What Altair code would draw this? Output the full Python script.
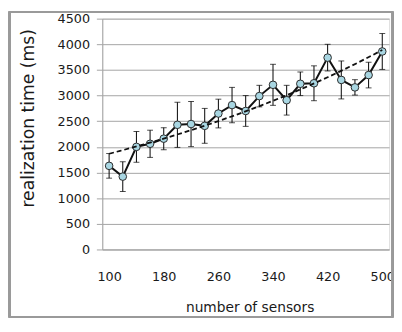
import altair as alt
import pandas as pd

sensors = [100, 120, 140, 160, 180, 200, 220, 240, 260, 280, 300,
           320, 340, 360, 380, 400, 420, 440, 460, 480, 500]
time_ms = [1630, 1420, 2000, 2060, 2160, 2430, 2445, 2410, 2650, 2815, 2700,
           2990, 3210, 2910, 3230, 3240, 3740, 3305, 3160, 3400, 3860]
err_ms = [240, 290, 300, 265, 215, 440, 440, 340, 280, 345, 300,
          210, 400, 290, 230, 340, 260, 370, 150, 250, 350]
x_ticks = [100, 180, 260, 340, 420, 500]
y_ticks = [0, 500, 1000, 1500, 2000, 2500, 3000, 3500, 4000, 4500]

df = pd.DataFrame({"n": sensors, "t": time_ms, "e": err_ms})
df["lo"] = df["t"] - df["e"]
df["hi"] = df["t"] + df["e"]

FONT = "DejaVu Sans"
GRID = "#a3a3a3"

x_axis = alt.Axis(values=x_ticks, grid=False, ticks=False, tickSize=0,
                  labelPadding=22, labelFont=FONT, labelFontSize=13,
                  labelColor="#1a1a1a", domainColor=GRID,
                  labelOverlap=False, format="d",
                  title="number of sensors", titleFont=FONT,
                  titleFontSize=14, titleFontWeight="normal",
                  titleColor="#1a1a1a", titleX=150, titleY=63,
                  titleBaseline="alphabetic", titleAnchor="start",
                  titleAlign="center")
y_axis = alt.Axis(values=y_ticks, grid=True, gridColor=GRID,
                  tickColor=GRID, tickSize=6, domainColor=GRID,
                  labelPadding=7, labelFont=FONT, labelFontSize=13,
                  labelColor="#1a1a1a", labelOverlap=False, format="d",
                  title="realization time (ms)", titleFont=FONT,
                  titleFontSize=17.5, titleFontWeight="normal",
                  titleColor="#1a1a1a", titleX=-75, titleY=101,
                  titleBaseline="middle", titleAnchor="start",
                  titleAlign="center", titleAngle=270)
x_scale = alt.Scale(domain=[90, 510], nice=False, zero=False)
y_scale = alt.Scale(domain=[0, 4500], nice=False)


def X():
    return alt.X("n:Q", scale=x_scale, axis=x_axis)


def Y(field):
    return alt.Y(field + ":Q", scale=y_scale, axis=y_axis)


base = alt.Chart(df)

FR = dict(color="#9a9a9a", strokeWidth=1.5)
L, R, T, B = -94.5, 295.5, -7, 304
f_top = base.mark_rule(**FR).encode(x=alt.value(L), x2=alt.value(R), y=alt.value(T))
f_bot = base.mark_rule(**FR).encode(x=alt.value(L), x2=alt.value(R), y=alt.value(B))
f_left = base.mark_rule(**FR).encode(x=alt.value(L), y=alt.value(T), y2=alt.value(B))
f_right = base.mark_rule(**FR).encode(x=alt.value(R), y=alt.value(T), y2=alt.value(B))

bars = base.mark_rule(color="#000", strokeWidth=1).encode(
    x=X(), y=Y("lo"), y2="hi:Q")
caps_hi = base.mark_tick(color="#000", orient="horizontal", size=6, thickness=1).encode(
    x=X(), y=Y("hi"))
caps_lo = base.mark_tick(color="#000", orient="horizontal", size=6, thickness=1).encode(
    x=X(), y=Y("lo"))
line = base.mark_line(color="#111", strokeWidth=2).encode(x=X(), y=Y("t"))
pts = base.mark_point(filled=True, shape="circle", size=60, fill="#a8d6e2",
                      stroke="#2a2a2a", strokeWidth=1, opacity=1).encode(x=X(), y=Y("t"))
trend = base.transform_regression("n", "t", method="exp").mark_line(
    color="#111", strokeWidth=1.8, strokeDash=[5, 3]).encode(x=X(), y=Y("t"))

chart = alt.layer(bars, caps_hi, caps_lo, line, pts, trend,
                  f_top, f_bot, f_left, f_right).properties(
    width=292, height=235,
    autosize=alt.AutoSizeParams(type="none"),
    padding={"left": 96, "top": 8, "right": 5, "bottom": 70},
).configure_view(stroke=None).configure(background="white")

chart.save("out.html", embed_options={"renderer": "svg", "actions": False})
